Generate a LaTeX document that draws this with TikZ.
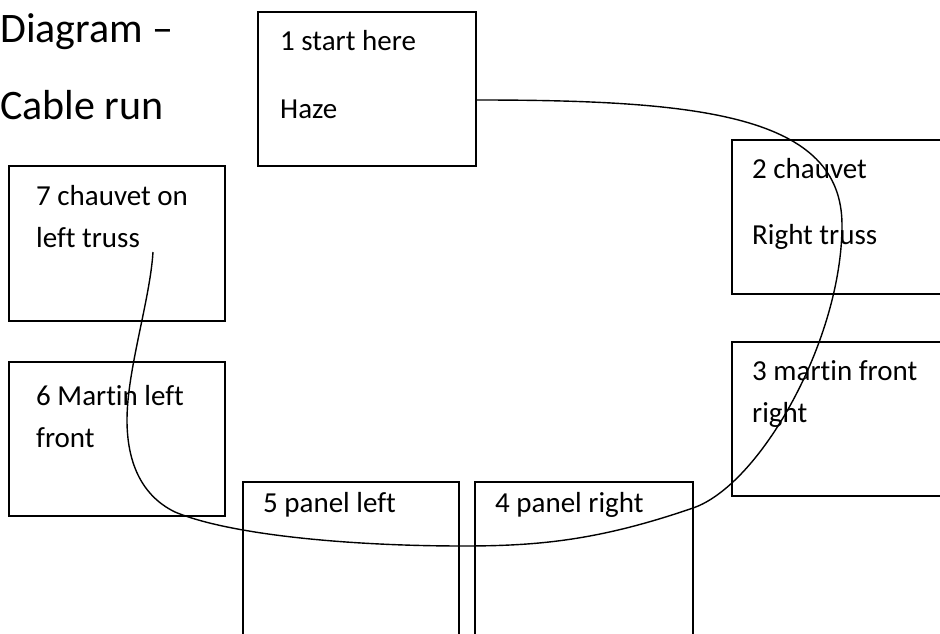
\documentclass[tikz,border=0pt]{standalone}
\usepackage{fontspec}
\setmainfont{Carlito}[Ligatures=NoCommon]
\usetikzlibrary{calc}
\tikzset{
  box/.style={draw=black, line width=1.6pt, minimum width=218pt, minimum height=154pt, inner sep=0pt},
  lbl/.style={anchor=base west, inner sep=0pt, font=\fontsize{29}{35}\selectfont},
  ttl/.style={anchor=base west, inner sep=0pt, font=\fontsize{42}{50}\selectfont},
  cable/.style={draw=black, line width=1.4pt}
}
\begin{document}
\begin{tikzpicture}[x=1pt,y=-1pt]
\useasboundingbox (0,0) rectangle (940,634);
\clip (0,0) rectangle (940,634);
\fill[white] (0,0) rectangle (940,634);
% title
\node[ttl] (t1) at (0,43) {Diagram –};
\node[ttl] (t2) at (0,119) {Cable run};
% boxes
\node[box] (b1) at (367,89) {};
\node[box] (b2) at (841,217) {};
\node[box] (b3) at (841,419) {};
\node[box] (b4) at (584,559) {};
\node[box, minimum width=216pt] (b5) at (351,559) {};
\node[box, minimum width=216pt, minimum height=155pt] (b7) at (117,243.5) {};
\node[box, minimum width=216pt] (b6) at (117,439) {};
% labels
\node[lbl] (l1a) at (280,51) {1 start here};
\node[lbl] (l1b) at (280,118) {Haze};
\node[lbl] (l2a) at (752,178) {2 chauvet};
\node[lbl] (l2b) at (752,244) {Right truss};
\node[lbl] (l3a) at (752,380) {3 martin front};
\node[lbl] (l3b) at (752,422) {right};
\node[lbl] (l7a) at (36,205) {7 chauvet on};
\node[lbl] (l7b) at (36,247) {left truss};
\node[lbl] (l6a) at (36,405) {6 Martin left};
\node[lbl] (l6b) at (36,447) {front};
\node[lbl] (l5) at (263,512) {5 panel left};
\node[lbl] (l4) at (495,512) {4 panel right};
% cable run
\coordinate (cend) at (153,252);
\coordinate (p1) at (842,225);
\coordinate (p2) at (693,508);
\coordinate (p3) at (463,546);
\coordinate (p4) at (175,512);
\coordinate (p5) at (127,420);
\path[cable] ([yshift=-11pt]b1.east)
  .. controls (700,100) and (842,115) .. (p1)
  .. controls (842,340) and (760,485) .. (p2)
  .. controls (600,540) and (540,546) .. (p3)
  .. controls (350,546) and (230,535) .. (p4)
  .. controls (140,495) and (127,460) .. (p5)
  .. controls (127,370) and (150,300) .. (cend);
\end{tikzpicture}
\end{document}
